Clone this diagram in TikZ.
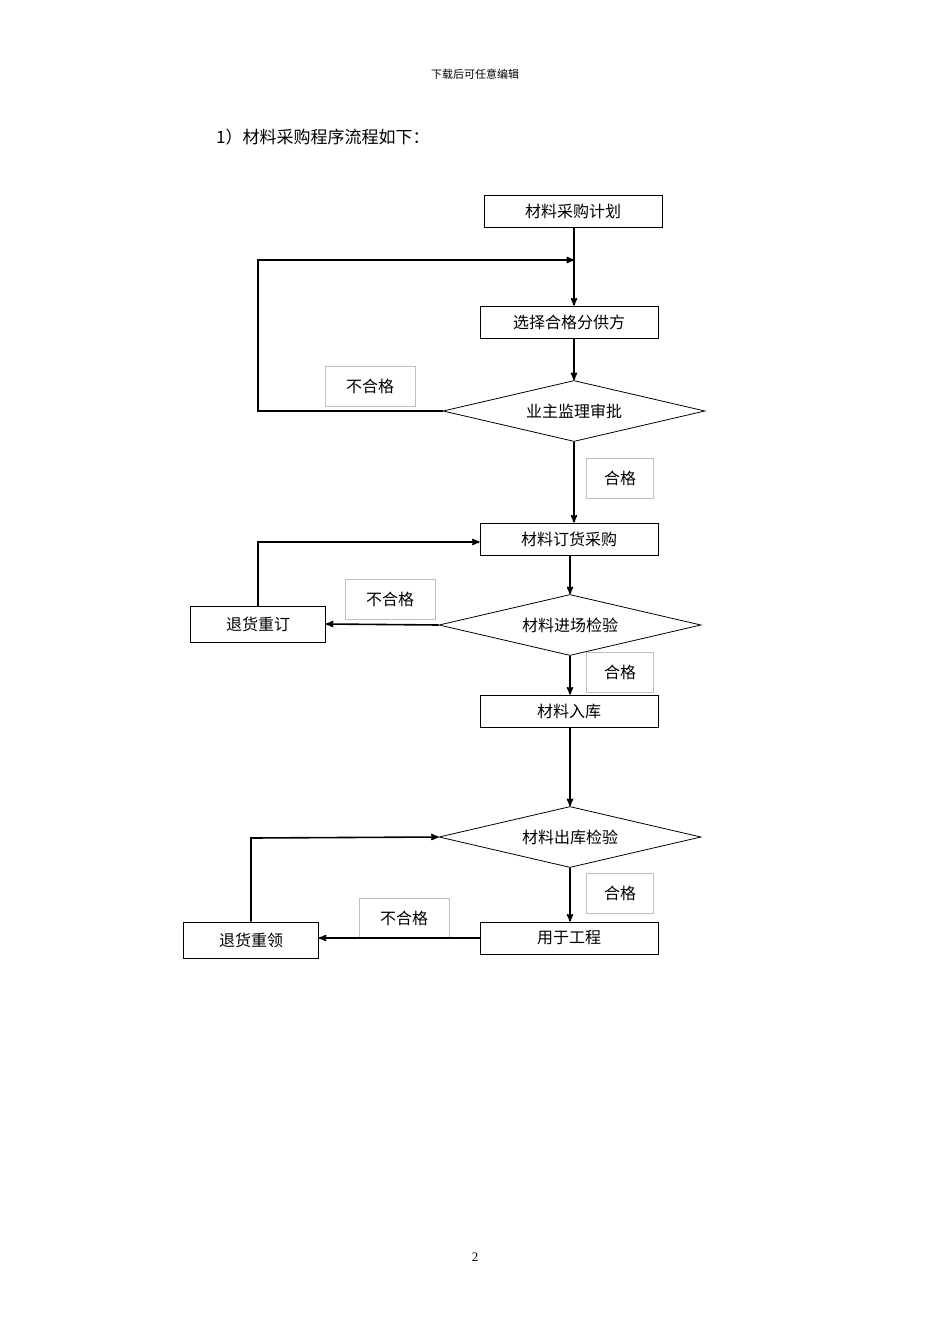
\documentclass[tikz,border=0pt]{standalone}
\usepackage{fontspec}
\setmainfont{Liberation Serif}
\newfontfamily\cjk{Noto Sans CJK SC}
\usetikzlibrary{positioning,arrows,calc,shapes.geometric}
\tikzset{flow/.style={>=stealth',line width=1.6pt,x=1pt,y=-1pt},
    stage/.style={rectangle,draw,line width=0.8pt,minimum width=178pt,minimum height=32pt,font=\cjk\fontsize{16}{16}\selectfont},
    check/.style={diamond,draw,line width=0.8pt,aspect=4.3,inner sep=0pt,minimum width=262pt,minimum height=61pt,font=\cjk\fontsize{16}{16}\selectfont},
    back/.style={rectangle,draw,line width=0.8pt,minimum width=135pt,minimum height=36pt,font=\cjk\fontsize{16}{16}\selectfont},
    tag/.style={rectangle,draw=gray!50,line width=0.5pt,minimum width=90pt,minimum height=40pt,font=\cjk\fontsize{16}{16}\selectfont},
    oktag/.style={tag,minimum width=67pt}}
\begin{document}
\begin{tikzpicture}[flow]
\useasboundingbox (0,0) rectangle (950,1344);
\node[font=\cjk\fontsize{11}{11}\selectfont] (head) at (475,74) {下载后可任意编辑};
\node[anchor=west,font=\cjk\fontsize{17}{17}\selectfont] (title) at (212,137) {1）材料采购程序流程如下：};
\node[font=\fontsize{13}{13}\selectfont] (page) at (475,1257) {2};

\node[stage] (plan) at (573,211) {材料采购计划};
\node[stage] (select) at (569,322) {选择合格分供方};
\node[check] (approve) at (574,411) {业主监理审批};
\node[stage] (order) at (569,539) {材料订货采购};
\node[check] (inspect) at (570,625) {材料进场检验};
\node[stage] (store) at (569,711) {材料入库};
\node[check] (issue) at (570,837) {材料出库检验};
\node[stage] (use) at (569,938) {用于工程};
\node[back] (reorder) at (258,624) {退货重订};
\node[back] (reissue) at (251,940) {退货重领};

\node[tag] (fail1) at (370,386) {不合格};
\node[tag] (fail2) at (390,599) {不合格};
\node[tag] (fail3) at (404,918) {不合格};
\node[oktag] (pass1) at (620,478) {合格};
\node[oktag] (pass2) at (620,672) {合格};
\node[oktag] (pass3) at (620,893) {合格};

\coordinate (join) at (574,260);
\draw (plan.south -| join) -- (join);
\draw[->] (join) -- (select.north -| join);
\draw[->] (approve.west) -- (258,411) -- (258,260) -- (join);
\draw[->] (select.south -| approve) -- (approve.north);
\draw[->] (approve.south) -- (order.north -| approve);
\draw[->] (order.south -| inspect) -- (inspect.north);
\draw[->] (inspect.west) -- (reorder.east);
\draw[->] (reorder.north) -- (258,542) -- (order.west |- 0,542);
\draw[->] (inspect.south) -- (store.north -| inspect);
\draw[->] (store.south -| issue) -- (issue.north);
\draw[->] (issue.south) -- (use.north -| issue);
\draw[->] (use.west) -- (reissue.east |- use.west);
\draw[->] (reissue.north) -- (251,838) -- (issue.west);
\end{tikzpicture}
\end{document}
